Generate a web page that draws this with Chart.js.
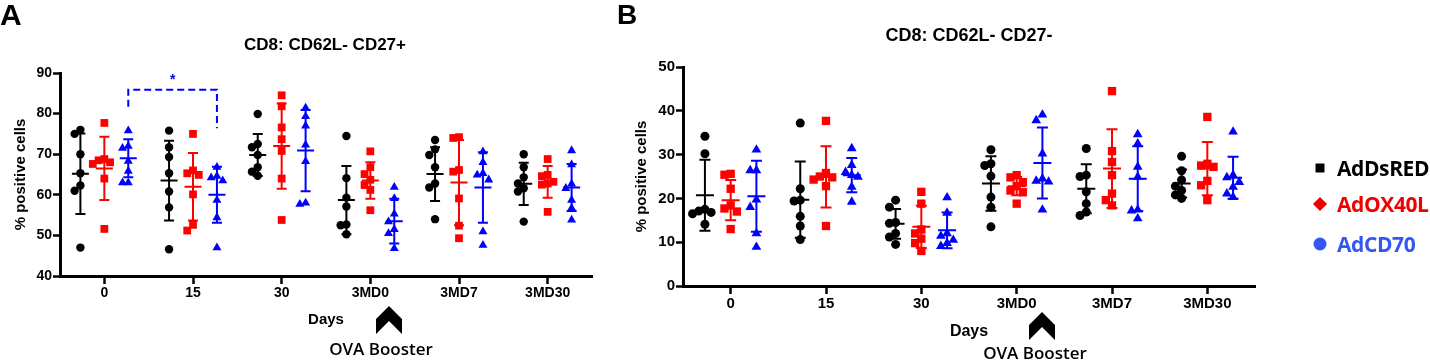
<!DOCTYPE html>
<html>
<head>
<meta charset="utf-8">
<script src="https://cdn.jsdelivr.net/npm/chart.js@4.4.1/dist/chart.umd.min.js"></script>
<style>
html,body{margin:0;padding:0;background:#fff;}
body{width:1430px;height:361px;position:relative;overflow:hidden;font-family:"Liberation Sans",Arial,sans-serif;}
canvas{position:absolute;top:0;}
#cA{left:0;}
#cB{left:615px;}
.t{position:absolute;white-space:nowrap;line-height:1;transform:translate(-50%,-50%);font-weight:bold;color:#000;}
.ova{font-family:"Open Sans",sans-serif;font-weight:600;font-size:17px;}
.letter{position:absolute;line-height:1;font-weight:bold;color:#000;}
.leg{position:absolute;left:1310px;height:24px;line-height:24px;transform:translateY(-50%);font-family:"Open Sans",sans-serif;font-weight:700;font-size:21px;letter-spacing:-0.4px;white-space:nowrap;}
.mk{position:absolute;top:50%;left:10px;transform:translate(-50%,-50%);}
.leg .lbl{position:absolute;left:27px;top:0;}
svg{position:absolute;left:0;top:0;}
</style>
</head>
<body>
<canvas id="cA" width="610" height="361"></canvas>
<canvas id="cB" width="665" height="361"></canvas>
<svg width="1430" height="361">
  <polygon points="389,306 402,319 402,334 389,321 376,334 376,319" fill="#000"/>
  <polygon points="1042,312 1055,325 1055,340 1042,327 1029,340 1029,325" fill="#000"/>
</svg>
<div class="letter" style="left:0px;top:0px;font-size:30px;">A</div>
<div class="letter" style="left:617px;top:1px;font-size:28px;">B</div>
<div class="t" style="left:325px;top:43.5px;font-size:17px;">CD8: CD62L- CD27+</div>
<div class="t" style="left:969px;top:35px;font-size:18px;">CD8: CD62L- CD27-</div>
<div class="t" style="left:326px;top:318px;font-size:15px;">Days</div>
<div class="t" style="left:969px;top:331px;font-size:16px;">Days</div>
<div class="t ova" style="left:381px;top:348px;">OVA Booster</div>
<div class="t ova" style="left:1035px;top:352px;">OVA Booster</div>
<div id="legend"></div>
<script>
// ---------------- DATA ----------------
const categories = ['0', '15', '30', '3MD0', '3MD7', '3MD30'];
const groupNames = ['AdDsRED', 'AdOX40L', 'AdCD70'];

// Panel A: CD8: CD62L- CD27+  (% positive cells), individual mice per day
const A_DsRED = [
  [76.0, 75.0, 70.0, 65.3, 62.3, 61.0, 47.0],
  [75.8, 71.7, 69.3, 65.3, 60.8, 56.9, 46.6],
  [79.9, 72.5, 71.7, 69.8, 66.8, 65.7, 64.7],
  [74.5, 64.1, 59.3, 57.1, 52.7, 52.5, 50.3],
  [73.5, 71.2, 69.8, 66.8, 62.8, 61.8, 54.0],
  [70.0, 66.8, 64.3, 62.8, 61.6, 60.8, 53.4]
];
const A_OX40L = [
  [77.7, 68.8, 68.5, 68.0, 67.6, 64.0, 51.6],
  [75.0, 66.0, 65.3, 64.9, 60.1, 52.6, 51.2],
  [84.5, 81.8, 76.6, 73.7, 70.8, 64.0, 53.8],
  [70.7, 66.8, 65.1, 63.7, 62.4, 61.2, 56.2],
  [74.2, 74.0, 66.1, 65.7, 59.1, 52.4, 49.3],
  [68.8, 64.9, 64.6, 63.2, 62.8, 62.5, 55.8]
];
const A_CD70 = [
  [75.8, 72.0, 71.5, 68.3, 65.8, 63.0, 63.0],
  [66.8, 64.6, 64.2, 63.5, 58.7, 54.4, 47.0],
  [81.4, 79.3, 77.0, 72.3, 68.2, 58.0, 57.7],
  [61.9, 59.1, 55.3, 53.4, 51.5, 50.5, 46.8],
  [70.6, 68.0, 65.3, 64.9, 63.7, 50.9, 47.6],
  [70.9, 67.4, 62.7, 61.6, 58.7, 56.7, 53.8]
];
const A_DsRED_mean = [65.2, 63.5, 69.8, 58.7, 65.1, 62.7];
const A_DsRED_sd   = [9.9, 9.8, 5.2, 8.4, 6.6, 5.2];
const A_OX40L_mean = [66.5, 62.0, 72.0, 63.5, 63.0, 63.2];
const A_OX40L_sd   = [7.8, 8.3, 10.5, 4.5, 10.5, 3.9];
const A_CD70_mean  = [69.0, 60.0, 70.9, 53.5, 61.8, 61.8];
const A_CD70_sd    = [4.7, 6.9, 10.0, 5.5, 8.7, 5.8];
const A_yTicks = [40, 50, 60, 70, 80, 90];

// Panel B: CD8: CD62L- CD27-  (% positive cells)
const B_DsRED = [
  [34.2, 30.2, 17.5, 17.1, 16.8, 16.5, 14.1],
  [37.2, 22.2, 19.6, 19.4, 15.9, 13.7, 10.6],
  [19.6, 18.0, 14.5, 14.3, 12.0, 11.2, 9.5],
  [31.1, 27.9, 27.5, 25.1, 20.3, 18.0, 13.5],
  [31.4, 25.3, 25.0, 21.5, 18.8, 16.9, 16.1],
  [29.6, 26.3, 24.2, 22.8, 21.8, 20.8, 20.0]
];
const B_OX40L = [
  [25.6, 25.4, 22.2, 18.4, 17.7, 17.0, 13.0],
  [37.7, 25.8, 25.0, 24.8, 24.3, 22.8, 13.7],
  [21.5, 18.8, 12.9, 12.0, 10.8, 9.8, 8.0],
  [25.3, 24.8, 23.7, 22.8, 21.8, 21.4, 18.8],
  [44.5, 30.8, 28.3, 25.3, 21.1, 19.6, 18.4],
  [38.6, 27.9, 27.5, 27.2, 24.0, 23.0, 19.6]
];
const B_CD70 = [
  [31.1, 26.4, 26.4, 19.7, 18.0, 12.0, 8.9],
  [31.4, 27.6, 26.0, 25.3, 24.9, 22.6, 19.2],
  [20.2, 16.7, 12.0, 11.4, 10.5, 9.8, 9.1],
  [39.1, 37.8, 30.2, 24.5, 24.0, 23.8, 17.4],
  [34.6, 32.5, 27.2, 24.9, 17.4, 17.2, 15.4],
  [35.2, 25.3, 24.8, 23.7, 22.6, 21.1, 20.3]
];
const B_DsRED_mean = [20.7, 19.7, 14.2, 23.4, 22.2, 23.4];
const B_DsRED_sd   = [8.1, 8.7, 3.4, 6.2, 5.6, 3.2];
const B_OX40L_mean = [19.6, 24.9, 13.5, 22.8, 26.8, 26.8];
const B_OX40L_sd   = [4.6, 7.0, 4.8, 2.1, 9.0, 6.1];
const B_CD70_mean  = [20.5, 25.3, 12.7, 28.1, 24.5, 24.7];
const B_CD70_sd    = [8.1, 3.9, 4.1, 8.1, 7.4, 4.8];
const B_yTicks = [0, 10, 20, 30, 40, 50];

// significance annotation in panel A (AdCD70, day 0 vs day 15)
const A_sig = {fromCat: 0, toCat: 1, group: 2, top: 85.9, leftEnd: 81.7, rightEnd: 76.4, star: 89.2, label: '*'};

// ---------------- STYLE ----------------
const groupColors = ['#000000', '#ff0000', '#0000ff'];
const legendColors = ['#000000', '#f00000', '#3456f2'];
const groupStyles = ['circle', 'rect', 'triangle'];
const groupOffsets = [-0.27, 0, 0.27];
const FONT = '"Liberation Sans", Arial, sans-serif';

function swarm(values, vTol, step) {
  const placed = [], out = [];
  const cands = [0, -1, 1, -2, 2];
  values.forEach(v => {
    let off = 0;
    for (const c of cands) {
      if (placed.every(p => Math.abs(p.v - v) >= vTol || Math.abs(p.o - c) >= 1)) { off = c; break; }
    }
    placed.push({v, o: off});
    out.push(off * step);
  });
  return out;
}

function buildDatasets(pointsList, meansList, sdsList, vTol, radii) {
  return pointsList.map((pts, g) => {
    const data = [];
    pts.forEach((vals, ci) => {
      const jit = swarm(vals, vTol, 0.065);
      vals.forEach((v, k) => data.push({x: ci + groupOffsets[g] + jit[k], y: v}));
    });
    return {
      label: groupNames[g],
      data,
      pointStyle: groupStyles[g],
      pointRadius: radii[g],
      pointHoverRadius: radii[g],
      backgroundColor: groupColors[g],
      borderColor: groupColors[g],
      borderWidth: 0,
      means: meansList[g],
      sds: sdsList[g],
      groupOffset: groupOffsets[g]
    };
  });
}

const meanSdPlugin = {
  id: 'meanSd',
  afterDatasetsDraw(chart, args, opts) {
    const {ctx} = chart;
    const xs = chart.scales.x, ys = chart.scales.y;
    chart.data.datasets.forEach(ds => {
      ctx.save();
      ctx.strokeStyle = ds.borderColor;
      ctx.lineWidth = opts.lineWidth;
      ds.means.forEach((m, ci) => {
        const cx = xs.getPixelForValue(ci + ds.groupOffset);
        const yM = ys.getPixelForValue(m);
        const yT = ys.getPixelForValue(m + ds.sds[ci]);
        const yB = ys.getPixelForValue(m - ds.sds[ci]);
        ctx.beginPath();
        ctx.moveTo(cx, yT); ctx.lineTo(cx, yB);
        ctx.moveTo(cx - opts.capHalf, yT); ctx.lineTo(cx + opts.capHalf, yT);
        ctx.moveTo(cx - opts.capHalf, yB); ctx.lineTo(cx + opts.capHalf, yB);
        ctx.moveTo(cx - opts.meanHalf, yM); ctx.lineTo(cx + opts.meanHalf, yM);
        ctx.stroke();
      });
      ctx.restore();
    });
  }
};

const sigPlugin = {
  id: 'sig',
  afterDatasetsDraw(chart, args, opts) {
    if (!opts || !opts.spec) return;
    const s = opts.spec;
    const {ctx} = chart;
    const xs = chart.scales.x, ys = chart.scales.y;
    const x1 = xs.getPixelForValue(s.fromCat + groupOffsets[s.group]);
    const x2 = xs.getPixelForValue(s.toCat + groupOffsets[s.group]);
    const yTop = ys.getPixelForValue(s.top);
    ctx.save();
    ctx.strokeStyle = groupColors[s.group];
    ctx.lineWidth = 2;
    ctx.setLineDash([7, 4]);
    ctx.beginPath();
    ctx.moveTo(x1, ys.getPixelForValue(s.leftEnd));
    ctx.lineTo(x1, yTop);
    ctx.lineTo(x2, yTop);
    ctx.lineTo(x2, ys.getPixelForValue(s.rightEnd));
    ctx.stroke();
    ctx.setLineDash([]);
    ctx.fillStyle = groupColors[s.group];
    ctx.font = 'bold 14px ' + FONT;
    ctx.textAlign = 'center';
    ctx.textBaseline = 'alphabetic';
    ctx.fillText(s.label, (x1 + x2) / 2, ys.getPixelForValue(s.star) + 0.58 * 14);
    ctx.restore();
  }
};

function makeChart(id, datasets, yMin, yMax, yTicks, cfg) {
  return new Chart(document.getElementById(id), {
    type: 'scatter',
    data: {datasets},
    plugins: [meanSdPlugin, sigPlugin],
    options: {
      responsive: false,
      animation: false,
      events: [],
      layout: {padding: {left: 0, top: cfg.top, right: cfg.right, bottom: 0}},
      plugins: {
        legend: {display: false},
        tooltip: {enabled: false},
        title: {display: false},
        meanSd: {lineWidth: 2, capHalf: cfg.capHalf, meanHalf: cfg.meanHalf},
        sig: {spec: cfg.sig || null}
      },
      scales: {
        x: {
          type: 'linear',
          min: -0.5, max: categories.length - 0.5,
          afterBuildTicks: s => { s.ticks = categories.map((c, i) => ({value: i})); },
          afterFit: s => { s.height = cfg.xHeight; },
          ticks: {
            callback: v => categories[v],
            autoSkip: false, maxRotation: 0,
            color: '#000', padding: 1,
            font: {family: FONT, weight: 'bold', size: cfg.xFont}
          },
          grid: {drawOnChartArea: false, drawTicks: true, tickLength: 8, tickWidth: 2.5, tickColor: '#000', color: '#000'},
          border: {display: true, color: '#000', width: 3}
        },
        y: {
          min: yMin, max: yMax,
          afterBuildTicks: s => { s.ticks = yTicks.map(v => ({value: v})); },
          afterFit: s => { s.width = cfg.yWidth; },
          ticks: {
            color: '#000', padding: 1,
            font: {family: FONT, weight: 'bold', size: cfg.yFont}
          },
          grid: {drawOnChartArea: false, drawTicks: true, tickLength: 7, tickWidth: 2.5, tickColor: '#000', color: '#000'},
          border: {display: true, color: '#000', width: 3},
          title: {
            display: true, text: '% positive cells', color: '#000',
            font: {family: FONT, weight: 'bold', size: 15},
            padding: {top: cfg.titlePad, bottom: 0}
          }
        }
      }
    }
  });
}

const dsA = buildDatasets([A_DsRED, A_OX40L, A_CD70],
  [A_DsRED_mean, A_OX40L_mean, A_CD70_mean],
  [A_DsRED_sd, A_OX40L_sd, A_CD70_sd], 1.9, [4.2, 5.5, 5.2]);
makeChart('cA', dsA, 40, 90, A_yTicks,
  {top: 73, right: 18, xHeight: 85, yWidth: 60, xFont: 14, yFont: 14, titlePad: 12, capHalf: 5, meanHalf: 8.5, sig: A_sig});

const dsB = buildDatasets([B_DsRED, B_OX40L, B_CD70],
  [B_DsRED_mean, B_OX40L_mean, B_CD70_mean],
  [B_DsRED_sd, B_OX40L_sd, B_CD70_sd], 1.7, [4.5, 5.9, 5.6]);
makeChart('cB', dsB, 0, 50, B_yTicks,
  {top: 67, right: 25, xHeight: 75, yWidth: 68, xFont: 15, yFont: 15, titlePad: 17.5, capHalf: 5.5, meanHalf: 9});

// legend
const legendY = [167.5, 203.5, 244];
const legendMarks = [
  '<span class="mk" style="width:9px;height:9px;background:' + legendColors[0] + '"></span>',
  '<span class="mk" style="width:10px;height:10px;background:' + legendColors[1] + ';transform:translate(-50%,-50%) rotate(45deg)"></span>',
  '<span class="mk" style="width:13px;height:13px;border-radius:50%;background:' + legendColors[2] + '"></span>'
];
document.getElementById('legend').innerHTML = groupNames.map((n, i) =>
  '<div class="leg" style="top:' + legendY[i] + 'px">' + legendMarks[i] +
  '<span class="lbl" style="color:' + legendColors[i] + '">' + n + '</span></div>').join('');
</script>
</body>
</html>
